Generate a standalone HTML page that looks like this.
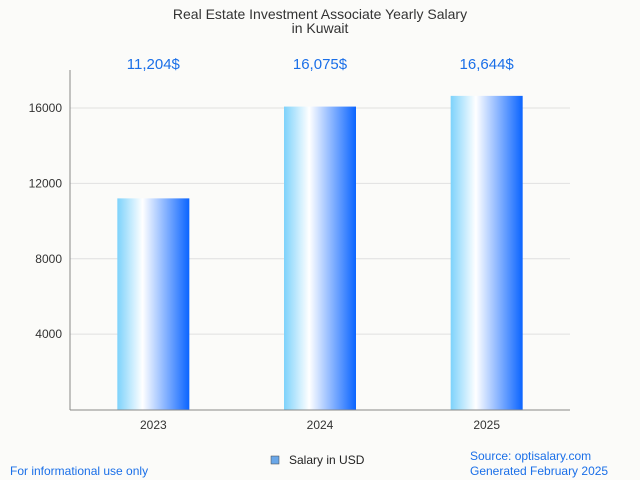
<!DOCTYPE html>
<html><head><meta charset="utf-8"><style>
body{margin:0;background:#fbfbf9;font-family:"Liberation Sans",sans-serif;}
svg{display:block}
</style></head><body>
<svg width="640" height="480" xmlns="http://www.w3.org/2000/svg">
<defs><linearGradient id="g" x1="0" x2="1" y1="0" y2="0">
<stop offset="0" stop-color="#7dd2fb"/><stop offset="0.35" stop-color="#ffffff"/><stop offset="1" stop-color="#0a64ff"/></linearGradient></defs>
<rect width="640" height="480" fill="#fbfbf9"/>
<text x="320" y="19" text-anchor="middle" font-size="14" fill="#333">Real Estate Investment Associate Yearly Salary</text>
<text x="320" y="33" text-anchor="middle" font-size="14" fill="#333">in Kuwait</text>
<g id="grid"></g><g id="bars"></g>
<line x1="70" y1="70" x2="70" y2="410" stroke="#888"/>
<line x1="70" y1="410" x2="570" y2="410" stroke="#888"/>
<rect x="271" y="456" width="8" height="8" fill="#6aa7e8" stroke="#444" stroke-width="0.5"/>
<text x="289" y="464" font-size="12" fill="#222">Salary in USD</text>
<text x="10" y="475" font-size="12" fill="#1a6fe8">For informational use only</text>
<text x="470" y="460" font-size="12" fill="#1a6fe8">Source: optisalary.com</text>
<text x="470" y="475" font-size="12" fill="#1a6fe8">Generated February 2025</text>
</svg>
<script>
const categories=["2023","2024","2025"];
const values=[11204,16075,16644];
const valueLabels=["11,204$","16,075$","16,644$"];
const yTicks=[4000,8000,12000,16000];
const NS="http://www.w3.org/2000/svg";
const y=v=>409.5-v*(409.5-108)/16000;
const band=500/categories.length;
const xc=i=>70+band*(i+0.5);
function mk(t,a,p){const e=document.createElementNS(NS,t);for(const k in a)e.setAttribute(k,a[k]);p.appendChild(e);return e;}
const grid=document.getElementById('grid'),bars=document.getElementById('bars');
yTicks.forEach(t=>{
 const l=mk('line',{x1:70,x2:570,y1:y(t),y2:y(t),stroke:'#e0e0e0'},grid);
 
 
 const tx=mk('text',{x:62,y:y(t)+4,'text-anchor':'end','font-size':12,fill:'#333'},grid);
 tx.textContent=t;
 
 
});
categories.forEach((c,i)=>{
 const r=mk('rect',{x:xc(i)-36,y:y(values[i]),width:72,height:409.5-y(values[i]),fill:'url(#g)'},bars);
 
 
 const v=mk('text',{x:xc(i),y:69,'text-anchor':'middle','font-size':15,fill:'#1a6fe8'},bars);
 v.textContent=valueLabels[i];
 
 
 const x=mk('text',{x:xc(i),y:429,'text-anchor':'middle','font-size':12,fill:'#333'},bars);
 x.textContent=c;
 
 
});
</script>
</body></html>
